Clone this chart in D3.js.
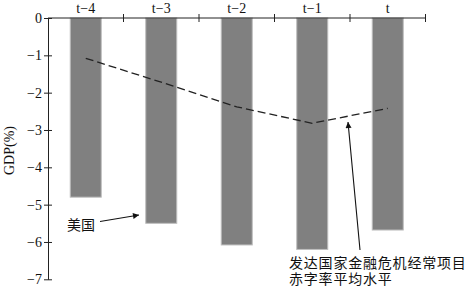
<!DOCTYPE html>
<html>
<head>
<meta charset="utf-8">
<script src="https://cdn.jsdelivr.net/npm/d3@7"></script>
<style>
  body { margin: 0; background: #fff; }
  text { font-family: "Liberation Serif", "Times New Roman", serif; fill: #111; }
  .cjk { font-family: "Noto Sans CJK SC", sans-serif; }
</style>
</head>
<body>
<div id="chart"></div>
<script>
// data
var periods = ["t\u22124", "t\u22123", "t\u22122", "t\u22121", "t"];
var usValues = [-4.8, -5.5, -6.08, -6.2, -5.68];
var avgValues = [-1.08, -1.72, -2.38, -2.82, -2.42];
var yTicks = [0, -1, -2, -3, -4, -5, -6, -7];
var avgNote = ["发达国家金融危机经常项目", "赤字率平均水平"];

var margin = { top: 18, right: 44, bottom: 8, left: 48 },
	width = 470 - margin.left - margin.right,
	height = 287 - margin.top - margin.bottom;

var svg = d3.select("#chart")
	.append("svg")
	.attr("width", 470)
	.attr("height", 287)
	.append("g")
	.attr("transform", "translate(" + margin.left + "," + margin.top + ")");

var x = d3.scaleBand()
	.domain(periods)
	.range([0, 377.5])
	.paddingInner(0)
	.paddingOuter(0);

var y = d3.scaleLinear()
	.domain([0, -7])
	.range([0, 261.3]);

var barW = 31;

// bars
svg.selectAll(".bar")
	.data(usValues)
	.enter()
	.append("rect")
	.attr("class", "bar")
	.attr("x", function (d, i) { return x(periods[i]) + x.bandwidth() / 2 - barW / 2; })
	.attr("y", y(0))
	.attr("width", barW)
	.attr("height", function (d) { return y(d) - y(0); })
	.style("fill", "#808080")
	.style("stroke", "#bdbdbd")
	.style("stroke-width", 1);

// top axis (zero line) with ticks on band edges
var xAxis = svg.append("g")
	.call(d3.axisTop(x).tickSize(0).tickFormat(""));
xAxis.select(".domain").attr("stroke", "#222").attr("d", "M0,0H" + x.range()[1]);
xAxis.selectAll(".tick").remove();
svg.selectAll(".xtick")
	.data(periods)
	.enter()
	.append("line")
	.attr("x1", function (d) { return x(d) + x.bandwidth(); })
	.attr("x2", function (d) { return x(d) + x.bandwidth(); })
	.attr("y1", -4)
	.attr("y2", 4)
	.attr("stroke", "#222");
svg.selectAll(".xlabel")
	.data(periods)
	.enter()
	.append("text")
	.attr("x", function (d) { return x(d) + x.bandwidth() / 2; })
	.attr("y", -5)
	.attr("text-anchor", "middle")
	.style("font-size", "14px")
	.text(function (d) { return d; });

// left axis
var yAxis = svg.append("g")
	.call(d3.axisLeft(y).tickValues(yTicks).tickSize(0)
		.tickFormat(function (d) { return d === 0 ? "0" : "\u2212" + Math.abs(d); }));
yAxis.select(".domain").attr("stroke", "#222");
yAxis.selectAll(".tick line").attr("x1", -4).attr("x2", 4).attr("stroke", "#222");
yAxis.selectAll(".tick text")
	.attr("x", -6)
	.style("font-size", "14px")
	.style("font-family", "'Liberation Serif', serif")
	.attr("fill", "#111");

// dashed average line
var line = d3.line()
	.x(function (d, i) { return x(periods[i]) + x.bandwidth() / 2; })
	.y(function (d) { return y(d); });
svg.append("path")
	.datum(avgValues)
	.attr("d", line)
	.attr("fill", "none")
	.attr("stroke", "#222")
	.attr("stroke-width", 1.3)
	.attr("stroke-dasharray", "8,4");

// axis title
svg.append("text")
	.attr("transform", "translate(" + (-34) + "," + (height / 2 + 2) + ") rotate(-90)")
	.attr("text-anchor", "middle")
	.style("font-size", "14px")
	.text("GDP(%)");

// arrow marker
svg.append("defs").append("marker")
	.attr("id", "arr")
	.attr("viewBox", "0 0 10 10")
	.attr("refX", 10).attr("refY", 5)
	.attr("markerWidth", 9).attr("markerHeight", 6)
	.attr("markerUnits", "userSpaceOnUse")
	.attr("orient", "auto")
	.append("path")
	.attr("d", "M0,0L10,5L0,10z")
	.attr("fill", "#111");

// annotation: US
svg.append("text")
	.attr("class", "cjk")
	.attr("x", 19)
	.attr("y", 212)
	.style("font-size", "14px")
	.text("美国");
svg.append("line")
	.attr("x1", 52).attr("y1", 203.5)
	.attr("x2", 91).attr("y2", 197)
	.attr("stroke", "#111")
	.attr("stroke-width", 1.1)
	.attr("marker-end", "url(#arr)");

// annotation: average
svg.append("line")
	.attr("x1", 312).attr("y1", 232)
	.attr("x2", 300).attr("y2", 104)
	.attr("stroke", "#111")
	.attr("stroke-width", 1.1)
	.attr("marker-end", "url(#arr)");
svg.append("text")
	.attr("class", "cjk")
	.attr("x", 241)
	.attr("y", 249.5)
	.style("font-size", "14px")
	.style("letter-spacing", "0.8px")
	.selectAll("tspan")
	.data(avgNote)
	.enter()
	.append("tspan")
	.attr("x", 241)
	.attr("dy", function (d, i) { return i === 0 ? 0 : 16.5; })
	.text(function (d) { return d; });
</script>
</body>
</html>
